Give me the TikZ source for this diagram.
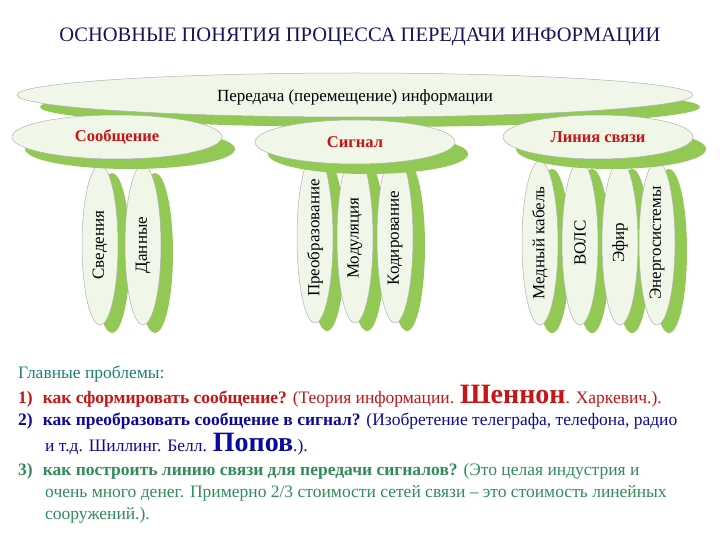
\documentclass[tikz,border=0pt]{standalone}
\usepackage{fontspec}
\setmainfont{Liberation Serif}
\begin{document}
\begin{tikzpicture}[x=1pt,y=-1pt,
  shad/.style={fill=lgreen,draw=none},
  ell/.style={fill=pale,draw=gray!60,line width=0.5pt}]
\definecolor{lgreen}{RGB}{146,200,84}
\definecolor{pale}{RGB}{240,246,232}
\definecolor{navy}{RGB}{20,20,90}
\definecolor{teal2}{RGB}{30,130,120}
\definecolor{red2}{RGB}{200,20,20}
\definecolor{blue2}{RGB}{10,10,160}
\definecolor{green2}{RGB}{50,140,90}
\useasboundingbox (0,0) rectangle (720,540);
\fill[white] (0,0) rectangle (720,540);
\node[text=navy,font=\fontsize{20.5}{22}\selectfont] (title) at (360,37) {ОСНОВНЫЕ ПОНЯТИЯ ПРОЦЕССА ПЕРЕДАЧИ ИНФОРМАЦИИ};
% top
\fill[shad] (370,107) ellipse[x radius=330,y radius=20];
\draw[ell] (355,95) ellipse[x radius=338,y radius=22];
\node[font=\fontsize{17}{19}\selectfont] (top) at (355,97) {Передача (перемещение) информации};
% verticals
\foreach \x/\yc/\ry/\t in {100/245/80/Сведения,143/245/80/Данные,315/238/85/Преобразование,355/238/85/Модуляция,395/238/85/Кодирование,540/243/82/Медный кабель,580/243/82/ВОЛС,620/243/82/Эфир,657/243/82/Энергосистемы}{
  \fill[shad] (\x+12,\yc+8) ellipse[x radius=18,y radius=\ry];
  \draw[ell] (\x,\yc) ellipse[x radius=18,y radius=\ry];
  \node[rotate=90,font=\fontsize{17}{19}\selectfont] at (\x,\yc) {\t};
}
% subs
\foreach \x/\y/\rx/\t/\n in {117/137/105/Сообщение/s1,355/142/100/Сигнал/s2,598/137/95/Линия связи/s3}{
  \fill[shad] (\x+13,\y+12) ellipse[x radius=\rx,y radius=20];
  \draw[ell] (\x,\y) ellipse[x radius=\rx,y radius=22];
  \node[text=red2,font=\bfseries\fontsize{16.5}{18}\selectfont] (\n) at (\x,\y) {\t};
}
% text
\begin{scope}[every node/.style={anchor=base west,inner sep=0pt,font=\fontsize{17.5}{19}\selectfont}]
\node[text=teal2] (p0) at (18,378) {Главные проблемы:};
\node[text=red2] (p1) at (18,403) {\textbf{1)\hspace{10pt}как сформировать сообщение?} (Теория информации. {\fontsize{28}{30}\selectfont\textbf{Шеннон}}. Харкевич.).};
\node[text=blue2] (p2) at (18,425) {\textbf{2)\hspace{10pt}как преобразовать сообщение в сигнал?} (Изобретение телеграфа, телефона, радио};
\node[text=blue2] (p2b) at (45,451) {и т.д. Шиллинг. Белл. {\fontsize{28}{30}\selectfont\textbf{Попов}}.).};
\node[text=green2] (p3) at (18,475) {\textbf{3)\hspace{10pt}как построить линию связи для передачи сигналов?} (Это целая индустрия и};
\node[text=green2] (p3b) at (45,497) {очень много денег. Примерно 2/3 стоимости сетей связи – это стоимость линейных};
\node[text=green2] (p3c) at (45,519) {сооружений.).};
\end{scope}
\end{tikzpicture}
\end{document}
